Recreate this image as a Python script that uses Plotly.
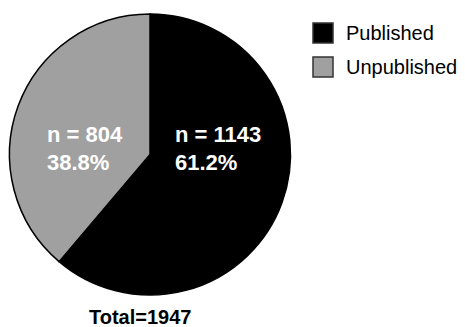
import plotly.graph_objects as go

# Publication status: counts and reported shares
categories = ["Published", "Unpublished"]
counts = [1143, 804]
shares = [61.2, 38.8]
colors = ["#000000", "#a0a0a0"]

total = sum(counts)
W, H = 465, 327
FONT = "Arial, Liberation Sans, Helvetica, sans-serif"

fig = go.Figure(
    go.Pie(
        labels=categories,
        values=shares,
        customdata=counts,
        sort=False,
        direction="clockwise",
        rotation=0,
        textinfo="none",
        hovertemplate="%{label}<br>n = %{customdata}<br>%{value}%<extra></extra>",
        marker=dict(colors=colors, line=dict(color="#000000", width=1.5)),
        domain=dict(x=[9 / W, 291 / W], y=[1 - 295 / H, 1 - 14 / H]),
        showlegend=False,
    )
)

def px(x, y):
    return x / W, 1 - y / H

annotations = []

# In-slice labels: count and share, left aligned
label_x = {"Published": 173, "Unpublished": 45}
for cat, n, pct in zip(categories, counts, shares):
    for text, yc in ((f"n = {n}", 134), (f"{pct:.1f}%", 162)):
        x, y = px(label_x[cat], yc)
        annotations.append(dict(
            x=x, y=y, xref="paper", yref="paper", xanchor="left", yanchor="middle",
            text=f"<b>{text}</b>", showarrow=False,
            font=dict(family=FONT, size=22, color="#ffffff"),
        ))

# Total below the pie
x, y = px(140, 317)
annotations.append(dict(
    x=x, y=y, xref="paper", yref="paper", xanchor="center", yanchor="middle",
    text=f"<b>Total={total}</b>", showarrow=False,
    font=dict(family=FONT, size=20, color="#000000"),
))

# Legend: swatches and names
shapes = []
for i, (cat, col) in enumerate(zip(categories, colors)):
    top = 23 + 34 * i
    x0, y1 = px(313, top)
    x1, y0 = px(333, top + 20)
    shapes.append(dict(
        type="rect", xref="paper", yref="paper", x0=x0, x1=x1, y0=y0, y1=y1,
        fillcolor=col, line=dict(color="#333333", width=1.5),
    ))
    tx, ty = px(344, top + 10)
    annotations.append(dict(
        x=tx, y=ty, xref="paper", yref="paper", xanchor="left", yanchor="middle",
        text=cat, showarrow=False,
        font=dict(family=FONT, size=20, color="#000000"),
    ))

fig.update_layout(
    width=W, height=H,
    margin=dict(l=0, r=0, t=0, b=0),
    paper_bgcolor="#ffffff",
    plot_bgcolor="#ffffff",
    annotations=annotations,
    shapes=shapes,
)

fig.write_html("out.html")
